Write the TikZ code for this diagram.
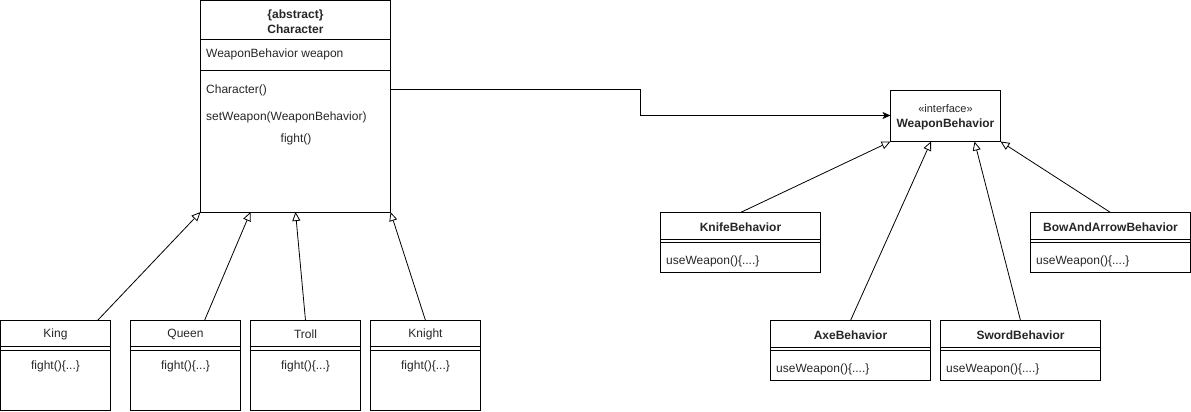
\documentclass[tikz,border=0pt]{standalone}
\usepackage{fontspec}
\setmainfont{Liberation Sans}
\usetikzlibrary{arrows.meta,calc}
\begin{document}
\begin{tikzpicture}[x=1pt,y=-1pt,
  box/.style={draw,line width=1pt,anchor=north west,inner sep=0pt,outer sep=0pt},
  txt/.style={inner sep=0pt,font=\fontsize{12}{14}\selectfont,text=black!85},
  bold/.style={txt,font=\fontsize{12}{14}\selectfont\bfseries},
  lt/.style={txt,anchor=west},
  sep/.style={line width=1pt},
  inh/.style={line width=0.8pt,-{Triangle[open,length=9pt,width=8pt,fill=white]}},
  assoc/.style={line width=1pt,-{Stealth[length=8pt,width=7pt,inset=2pt]}}
]
\useasboundingbox (0,0) rectangle (1191,412);
% Character
\node[box,minimum width=190pt,minimum height=211pt] (char) at (200.5,1) {};
\draw[sep] (200.5,40) -- (390.5,40);
\draw[sep] (200.5,71) -- (390.5,71);
\node[bold] (charst) at (295.5,15.5) {\{abstract\}};
\node[bold] (charnm) at (295.5,29) {Character};
\node[lt] (charat) at (206,54.5) {WeaponBehavior weapon};
\node[lt] (charm1) at (206,90.5) {Character()};
\node[lt] (charm2) at (206,117.5) {setWeapon(WeaponBehavior)};
\node[txt] (charm3) at (296,139.5) {fight()};
% Subclasses
\foreach \n/\x/\t in {king/0.5/King,queen/130.5/Queen,troll/250.5/Troll,knight/370.5/Knight}{
  \node[box,minimum width=110pt,minimum height=90pt] (\n) at (\x,320.5) {};
  \draw[sep] (\x,346) -- ++(110,0);
  \draw[sep] (\x,350) -- ++(110,0);
  \node[txt] (\n-name) at (\x+55,334.5) {\t};
  \node[txt] (\n-op) at (\x+55,366.5) {fight()\{...\}};
}
\draw[inh] ($(king.north west)+(97,0)$) -- (char.south west);
\draw[inh] ($(queen.north west)+(74,0)$) -- ($(char.south west)+(50,0)$);
\draw[inh] ($(troll.north west)+(55,0)$) -- ($(char.south west)+(95,0)$);
\draw[inh] ($(knight.north west)+(55,0)$) -- (char.south east);
% Interface
\node[box,minimum width=110pt,minimum height=51pt] (wb) at (890.5,90.5) {};
\node[txt,font=\fontsize{11}{13}\selectfont] (wbst) at (945.5,109) {«interface»};
\node[bold] (wbnm) at (945.5,124) {WeaponBehavior};
\coordinate (bend1) at (640.5,89.5);
\coordinate (bend2) at (640.5,115.5);
\draw[assoc] ($(char.north east)+(0,88.5)$) -- (bend1) -- (bend2) -- (wb.west |- bend2);
% Behaviors
\foreach \n/\x/\y/\t in {knife/660.5/212.5/KnifeBehavior,bow/1030.5/212.5/BowAndArrowBehavior,axe/770.5/320.5/AxeBehavior,sword/940.5/320.5/SwordBehavior}{
  \node[box,minimum width=160pt,minimum height=60pt] (\n) at (\x,\y) {};
  \draw[sep] (\x,\y+26.5) -- ++(160,0);
  \draw[sep] (\x,\y+30) -- ++(160,0);
  \node[bold] (\n-name) at (\x+80,\y+15) {\t};
  \node[lt] (\n-op) at (\x+5.5,\y+49) {useWeapon()\{....\}};
}
\draw[inh] ($(knife.north west)+(80,0)$) -- (wb.south west);
\draw[inh] ($(axe.north west)+(80,0)$) -- ($(wb.south west)+(40.5,0)$);
\draw[inh] ($(sword.north west)+(80,0)$) -- ($(wb.south west)+(84,0)$);
\draw[inh] ($(bow.north west)+(80,0)$) -- (wb.south east);
\end{tikzpicture}
\end{document}
